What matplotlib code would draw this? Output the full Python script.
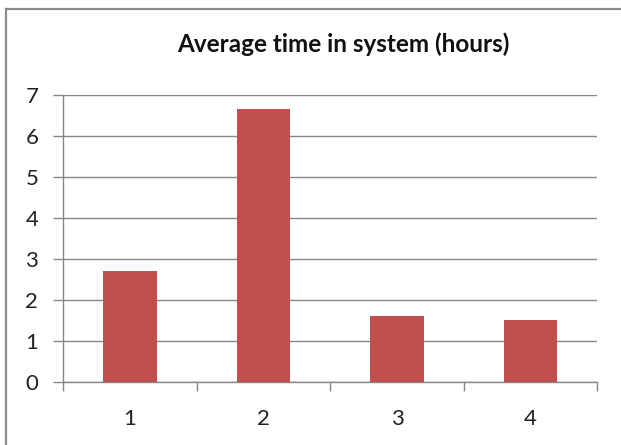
import matplotlib.pyplot as plt
from matplotlib.lines import Line2D

categories = ['1', '2', '3', '4']
avg_hours = [2.70, 6.65, 1.61, 1.51]
yticks = [0, 1, 2, 3, 4, 5, 6, 7]

grid_color = '#868686'
bar_color = '#C0504D'

plt.rcParams['font.family'] = ['Lato', 'DejaVu Sans']

fig = plt.figure(figsize=(6.21, 4.45), dpi=100)
# chart frame border (cropped at right/bottom in the reference)
fx, fy = 6 / 621, 1 - 8.5 / 445
fig.add_artist(Line2D([fx, 1.0], [fy, fy], transform=fig.transFigure,
                      color='#8c8c8c', linewidth=1.6))
fig.add_artist(Line2D([fx, fx], [fy, 0.0], transform=fig.transFigure,
                      color='#8c8c8c', linewidth=1.6))

ax = fig.add_axes([63.3 / 621, 1 - 382.3 / 445, (597.3 - 63.3) / 621, (382.3 - 95) / 445])
x = list(range(len(categories)))
ax.bar(x, avg_hours, width=0.4, color=bar_color, zorder=3)

ax.set_xlim(-0.5, len(categories) - 0.5)
ax.set_ylim(0, 7)
ax.set_yticks(yticks)
ax.set_xticks(x)
ax.set_xticklabels(categories)
ax.set_xticks([i - 0.5 for i in range(len(categories) + 1)], minor=True)

ax.grid(axis='y', color=grid_color, linewidth=1, zorder=0)
ax.tick_params(axis='x', which='major', length=0, pad=19, labelsize=16, colors='#222222')
ax.tick_params(axis='x', which='minor', length=6.5, width=1, color=grid_color)
ax.tick_params(axis='y', length=7, width=1, color=grid_color, pad=11, labelsize=16, labelcolor='#222222')

for s in ['top', 'right']:
    ax.spines[s].set_visible(False)
for s in ['left', 'bottom']:
    ax.spines[s].set_color(grid_color)
    ax.spines[s].set_linewidth(1)

fig.text(343 / 621, 1 - 44 / 445, 'Average time in system (hours)', ha='center', va='center',
         fontsize=17.5, fontweight='bold', color='#111111')

fig.savefig('out.png', dpi=100)
